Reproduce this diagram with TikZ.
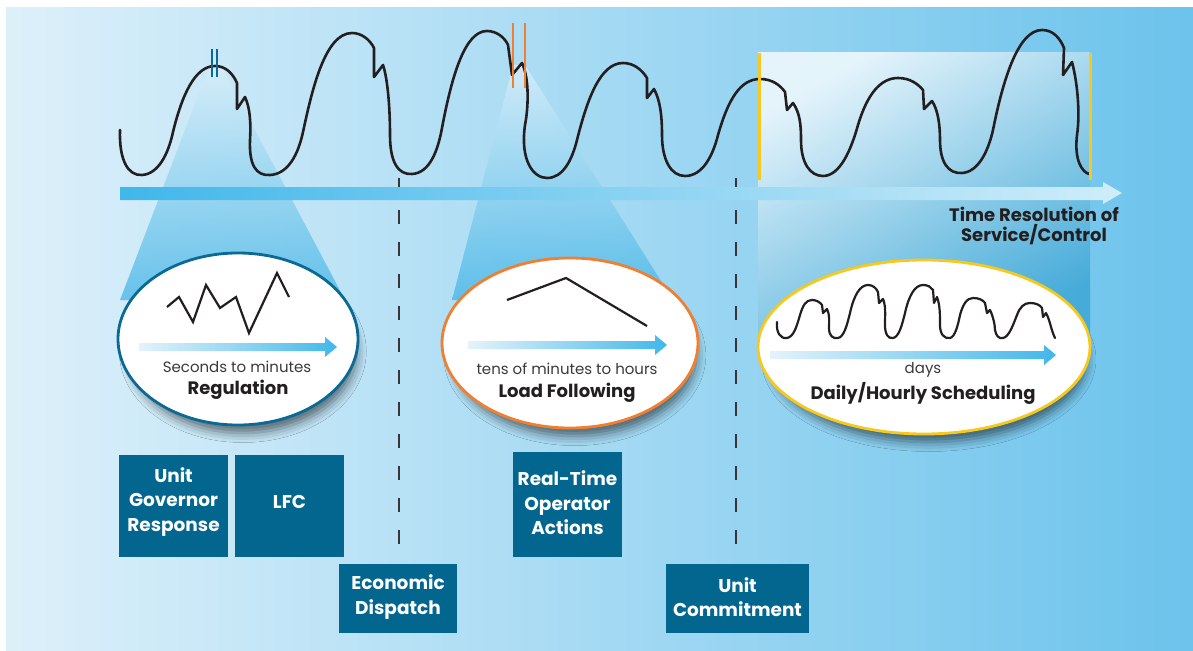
\documentclass[tikz,border=0pt]{standalone}
\usepackage{fontspec}
\setmainfont{Poppins}
\usetikzlibrary{shadows.blur,shapes.geometric}

\definecolor{bgL}{HTML}{DDF0FA}
\definecolor{bgR}{HTML}{6CC3EC}
\definecolor{beamblue}{HTML}{3FB3E6}
\definecolor{arrowblue}{HTML}{41B7EA}
\definecolor{arrowpale}{HTML}{E4F3FB}
\definecolor{boxblue}{HTML}{02668F}
\definecolor{regblue}{HTML}{0B6A94}
\definecolor{loadorange}{HTML}{F07F32}
\definecolor{dailyyellow}{HTML}{F7C81E}
\definecolor{ink}{HTML}{231F20}
\definecolor{greytext}{HTML}{3A3A3A}

\tikzset{
  wave/.style={draw=ink, line width=2.6pt, line join=round, line cap=round},
  smallwave/.style={draw=ink, line width=2.2pt, line join=round, line cap=round},
  divider/.style={draw=ink!90, line width=2.5pt, dash pattern=on 14pt off 18pt},
  beam/.style={top color=bgL, bottom color=beamblue, fill opacity=0.72},
  oval/.style={ellipse, fill=white, line width=2.8pt, inner sep=0pt,
    blur shadow={shadow xshift=5pt, shadow yshift=-13pt, shadow scale=0.95,
      shadow blur radius=10pt, shadow opacity=55}},
  ctrlbox/.style={fill=boxblue, inner sep=0pt},
  boxtext/.style={text=white, font=\bfseries\fontsize{18.5}{24.5}\selectfont, align=center},
  rangetext/.style={text=greytext, font=\fontsize{15}{18}\selectfont},
  service/.style={text=ink, font=\bfseries\fontsize{18}{20}\selectfont, align=center},
  selmark/.style={line width=2.6pt},
}

\begin{document}
\begin{tikzpicture}[x=1pt,y=-1pt]
\useasboundingbox (0,0) rectangle (1193,650);
\fill[white] (0,0) rectangle (1193,650);
\shade[left color=bgL, right color=bgR] (6,8) rectangle (1193,650);

% light beams projecting the selected wave parts onto their ovals
\shade[beam] (211,62) -- (219,62) -- (345,300) -- (120,300) -- cycle;
\shade[beam] (513,65) -- (525,65) -- (673,300) -- (452,300) -- cycle;
\shade[top color=white!85!bgL, bottom color=beamblue!92!black, shading angle=28, fill opacity=0.8]
  (758,53) rectangle (1090,345);

% dashed dividers
\coordinate (d1top) at (399,178);
\coordinate (d1bot) at (399,556);
\coordinate (d2top) at (736,178);
\coordinate (d2bot) at (736,556);
\draw[divider] (d1top) -- (d1bot);
\draw[divider] (d2top) -- (d2bot);

% time axis arrow
\shade[left color=arrowblue, middle color=arrowblue!85!white, right color=arrowblue!25!white]
  (120,187) -- (1103,187) -- (1103,182) -- (1122,193) -- (1103,204) -- (1103,200) -- (120,200) -- cycle;

% load curve
\draw[wave]
  (120,130) .. controls (119,160) and (128,176) .. (142,175)
            .. controls (158,174) and (168,155) .. (173,132)
            .. controls (182,95) and (195,66) .. (215,66)
            .. controls (226,66) and (233,74) .. (237,83)
  -- (237,109) -- (245,97)
            .. controls (250,108) and (251,122) .. (250,140)
            .. controls (249,165) and (256,176) .. (270,175)
            .. controls (288,174) and (298,155) .. (303,132)
            .. controls (312,90) and (325,33) .. (352,33)
            .. controls (362,33) and (370,40) .. (374,48)
  -- (374,77) -- (383,65)
            .. controls (388,80) and (390,110) .. (390,135)
            .. controls (390,162) and (398,175) .. (412,174)
            .. controls (430,173) and (438,150) .. (442,128)
            .. controls (452,75) and (465,31) .. (487,31)
            .. controls (497,31) and (505,38) .. (508,45)
  -- (512,75) -- (522,63)
            .. controls (530,80) and (528,110) .. (525,125)
            .. controls (520,160) and (533,178) .. (547,178)
            .. controls (563,178) and (572,160) .. (577,140)
            .. controls (587,100) and (600,63) .. (623,63)
            .. controls (634,63) and (642,70) .. (647,78)
  -- (647,98) -- (654,89)
            .. controls (660,100) and (662,115) .. (662,135)
            .. controls (662,160) and (671,176) .. (685,176)
            .. controls (703,176) and (713,155) .. (718,135)
            .. controls (728,100) and (740,79) .. (760,79)
            .. controls (772,79) and (780,85) .. (785,92)
  -- (787,110) -- (793,103)
            .. controls (800,113) and (801,125) .. (801,140)
            .. controls (801,163) and (810,176) .. (823,176)
            .. controls (840,176) and (851,150) .. (858,125)
            .. controls (867,95) and (880,78) .. (898,78)
            .. controls (910,78) and (918,84) .. (923,90)
  -- (924,109) -- (932,101)
            .. controls (938,110) and (940,125) .. (940,140)
            .. controls (940,162) and (948,174) .. (962,173)
            .. controls (978,172) and (988,152) .. (993,130)
            .. controls (1003,80) and (1018,30) .. (1042,30)
            .. controls (1053,30) and (1060,38) .. (1064,48)
  -- (1063,75) -- (1072,62)
            .. controls (1078,85) and (1080,115) .. (1077,135)
            .. controls (1074,160) and (1082,172) .. (1089,174);

% selection marks on the curve
\draw[selmark, regblue] (212,49) -- (212,77);
\draw[selmark, regblue] (217,49) -- (217,77);
\draw[selmark, loadorange] (513,23) -- (513,88);
\draw[selmark, loadorange] (525,23) -- (525,88);
\draw[line width=3pt, dailyyellow] (759,53) -- (759,180);
\draw[line width=3pt, dailyyellow] (1090,53) -- (1090,180);

% ---- Regulation oval
\node[oval, draw=regblue, minimum width=240pt, minimum height=172pt] (reg) at (238,339) {};
\draw[line width=2.2pt, ink, line join=miter]
  (167,307) -- (179,297) -- (193,322) -- (206,285) -- (220,308) -- (236,297) -- (249,333) -- (277,273) -- (289,297);
\shade[left color=arrowpale, right color=arrowblue]
  (139,343) -- (325,343) -- (325,337) -- (337,347) -- (325,357) -- (325,351) -- (139,351) -- cycle;
\node[rangetext] (regscale) at (237,367) {Seconds to minutes};
\node[service] (regname) at (238,390) {Regulation};

% ---- Load Following oval
\node[oval, draw=loadorange, minimum width=256pt, minimum height=170pt] (load) at (570,343) {};
\draw[line width=2.2pt, ink] (507,300) -- (566,278) -- (647,326);
\shade[left color=arrowpale, right color=arrowblue]
  (468,341) -- (655,341) -- (655,335) -- (667,345) -- (655,355) -- (655,349) -- (468,349) -- cycle;
\node[rangetext] (loadscale) at (567,369) {tens of minutes to hours};
\node[service] (loadname) at (567,393) {Load Following};

% ---- Daily/Hourly Scheduling oval
\node[oval, draw=dailyyellow, minimum width=332pt, minimum height=174pt] (daily) at (924,347) {};
\draw[smallwave]
  (777,322) .. controls (776,332) and (780,339) .. (787,338)
            .. controls (794,337) and (797,325) .. (800,315)
            .. controls (803,305) and (806,300) .. (812,300)
            .. controls (816,300) and (820,302) .. (822,305)
  -- (823,313) -- (827,309)
            .. controls (830,315) and (829,322) .. (829,328)
            .. controls (829,336) and (833,339) .. (838,338)
            .. controls (844,337) and (847,325) .. (850,313)
            .. controls (854,295) and (860,285) .. (868,285)
            .. controls (873,285) and (876,288) .. (878,292)
  -- (879,303) -- (883,299)
            .. controls (886,306) and (885,315) .. (885,325)
            .. controls (885,334) and (888,339) .. (893,338)
            .. controls (899,337) and (902,325) .. (905,313)
            .. controls (909,295) and (915,285) .. (923,285)
            .. controls (928,285) and (931,287) .. (933,290)
  -- (934,303) -- (937,297)
            .. controls (940,305) and (940,315) .. (940,325)
            .. controls (940,334) and (944,339) .. (950,338)
            .. controls (955,337) and (958,325) .. (960,315)
            .. controls (963,304) and (967,298) .. (973,298)
            .. controls (979,298) and (983,300) .. (985,303)
  -- (987,313) -- (990,310)
            .. controls (993,316) and (995,325) .. (995,330)
            .. controls (996,336) and (999,339) .. (1003,338)
            .. controls (1009,337) and (1013,325) .. (1017,315)
            .. controls (1020,307) and (1024,303) .. (1030,303)
            .. controls (1036,303) and (1040,305) .. (1042,308)
  -- (1043,317) -- (1046,313)
            .. controls (1050,320) and (1051,330) .. (1055,338);
\shade[left color=arrowpale, right color=arrowblue]
  (770,351) -- (1044,351) -- (1044,345) -- (1056,355) -- (1044,365) -- (1044,359) -- (770,359) -- cycle;
\node[rangetext] (dailyscale) at (923,370) {days};
\node[service] (dailyname) at (923,393) {Daily/Hourly Scheduling};

% axis caption
\node[service] (axiscap) at (1034,226) {Time Resolution of\\Service/Control};

% ---- control boxes
\node[ctrlbox, minimum width=109pt, minimum height=102pt] (ugr) at (173.5,506) {};
\node[boxtext] (ugrtext) at (173.5,502) {Unit\\Governor\\Response};
\node[ctrlbox, minimum width=109pt, minimum height=102pt] (lfc) at (289.5,506) {};
\node[boxtext] (lfctext) at (289.5,502) {LFC};
\node[ctrlbox, minimum width=118pt, minimum height=69pt] (ed) at (398,598.5) {};
\node[boxtext] (edtext) at (398,597) {Economic\\Dispatch};
\node[ctrlbox, minimum width=109pt, minimum height=105pt] (rto) at (567.5,504.5) {};
\node[boxtext] (rtotext) at (567.5,503) {Real-Time\\Operator\\Actions};
\node[ctrlbox, minimum width=143pt, minimum height=69pt] (uc) at (737.5,598.5) {};
\node[boxtext] (uctext) at (737.5,597) {Unit\\Commitment};
\end{tikzpicture}
\end{document}
